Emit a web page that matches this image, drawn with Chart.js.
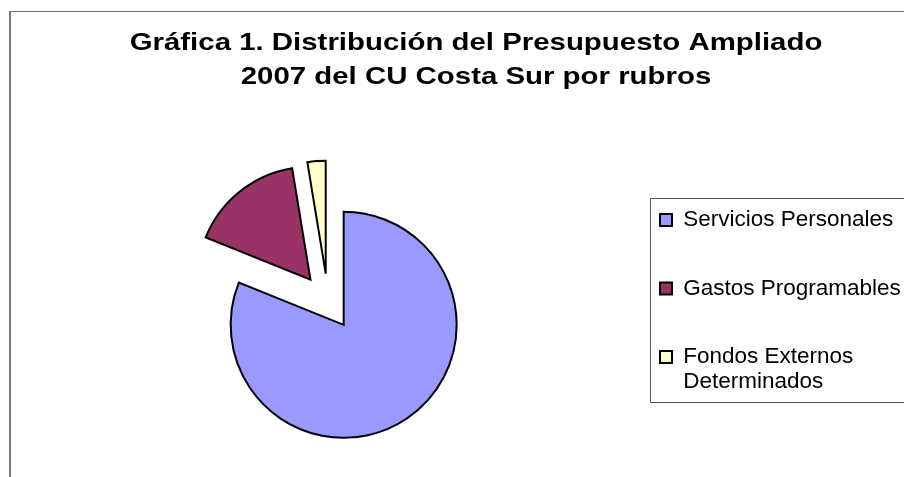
<!DOCTYPE html>
<html><head><meta charset="utf-8">
<style>html,body{margin:0;padding:0;background:#fff;overflow:hidden}</style>
<script src="https://cdn.jsdelivr.net/npm/chart.js@4.4.1/dist/chart.umd.min.js"></script>
</head><body>
<canvas id="c" width="904" height="477"></canvas>
<script>
const titleLines = ['Gráfica 1. Distribución del Presupuesto Ampliado', '2007 del CU Costa Sur por rubros'];
const categories = ['Servicios Personales', 'Gastos Programables', ['Fondos Externos', 'Determinados']];
const shares = [81.1, 16.3, 2.6];
const sliceColors = ['#9999FF', '#993366', '#FFFFCC'];

const FONT = '"Liberation Sans", Arial, sans-serif';

const framePlugin = {
  id: 'frame',
  beforeDraw(chart) {
    const ctx = chart.ctx;
    ctx.save();
    ctx.fillStyle = '#fff';
    ctx.fillRect(0, 0, chart.width, chart.height);
    ctx.fillStyle = '#777';
    ctx.fillRect(9, 11, 2, chart.height);
    ctx.fillRect(9, 11, chart.width, 1);
    ctx.restore();
  }
};

const explodePlugin = {
  id: 'explode',
  beforeDatasetDraw(chart, args, opts) {
    const ctx = chart.ctx;
    const d = opts.distance || 0;
    args.meta.data.forEach(arc => {
      const mid = (arc.startAngle + arc.endAngle) / 2;
      ctx.save();
      ctx.translate(Math.cos(mid) * d, Math.sin(mid) * d);
      arc.draw(ctx);
      ctx.restore();
    });
    return false;
  }
};

const titleStretchPlugin = {
  id: 'titleStretch',
  afterLayout(chart, args, opts) {
    const tb = chart.titleBlock;
    if (!tb || tb._stretched) return;
    tb._stretched = true;
    const orig = tb.draw;
    tb.draw = function(area) {
      const ctx = this.ctx;
      const cx = (this.left + this.right) / 2;
      ctx.save();
      ctx.translate(cx + (opts.shiftX || 0), 0);
      ctx.scale(opts.scaleX || 1, 1);
      ctx.translate(-cx, 0);
      orig.call(this, area);
      ctx.restore();
    };
  }
};

const legendFramePlugin = {
  id: 'legendFrame',
  afterDraw(chart) {
    const lg = chart.legend;
    if (!lg || !lg.legendHitBoxes || !lg.legendHitBoxes.length) return;
    const hb = lg.legendHitBoxes;
    const first = hb[0], last = hb[hb.length - 1];
    const ctx = chart.ctx;
    const x = Math.round(lg.left + 36) + 0.5;
    const top = Math.round(first.top - 11) + 0.5;
    const bottom = Math.round(last.top + last.height + 8) + 0.5;
    ctx.save();
    ctx.strokeStyle = '#555';
    ctx.lineWidth = 1;
    ctx.beginPath();
    ctx.moveTo(chart.width + 5, top);
    ctx.lineTo(x, top);
    ctx.lineTo(x, bottom);
    ctx.lineTo(chart.width + 5, bottom);
    ctx.stroke();
    ctx.restore();
  }
};

new Chart(document.getElementById('c'), {
  type: 'pie',
  data: {
    labels: categories,
    datasets: [{
      data: shares,
      backgroundColor: sliceColors,
      borderColor: '#000',
      borderWidth: 2,
      borderJoinStyle: 'miter',
      hoverOffset: 0
    }]
  },
  options: {
    responsive: false,
    animation: false,
    radius: 113,
    layout: { padding: { left: 42, right: 0, top: 0, bottom: 4 } },
    plugins: {
      explode: { distance: 28 },
      titleStretch: { scaleX: 1.225, shiftX: 3 },
      tooltip: { enabled: false },
      title: {
        display: true,
        text: titleLines,
        color: '#000',
        font: { family: FONT, size: 24, weight: 'bold', lineHeight: 1.4 },
        padding: { top: 27, bottom: 36 }
      },
      legend: {
        display: true,
        position: 'right',
        align: 'center',
        fullSize: false,
        maxWidth: 290,
        labels: {
          color: '#000',
          font: { family: FONT, size: 22.5, lineHeight: 1.08 },
          boxWidth: 12,
          boxHeight: 12,
          padding: 46
        }
      }
    }
  },
  plugins: [framePlugin, explodePlugin, titleStretchPlugin, legendFramePlugin]
});
</script>
</body></html>
